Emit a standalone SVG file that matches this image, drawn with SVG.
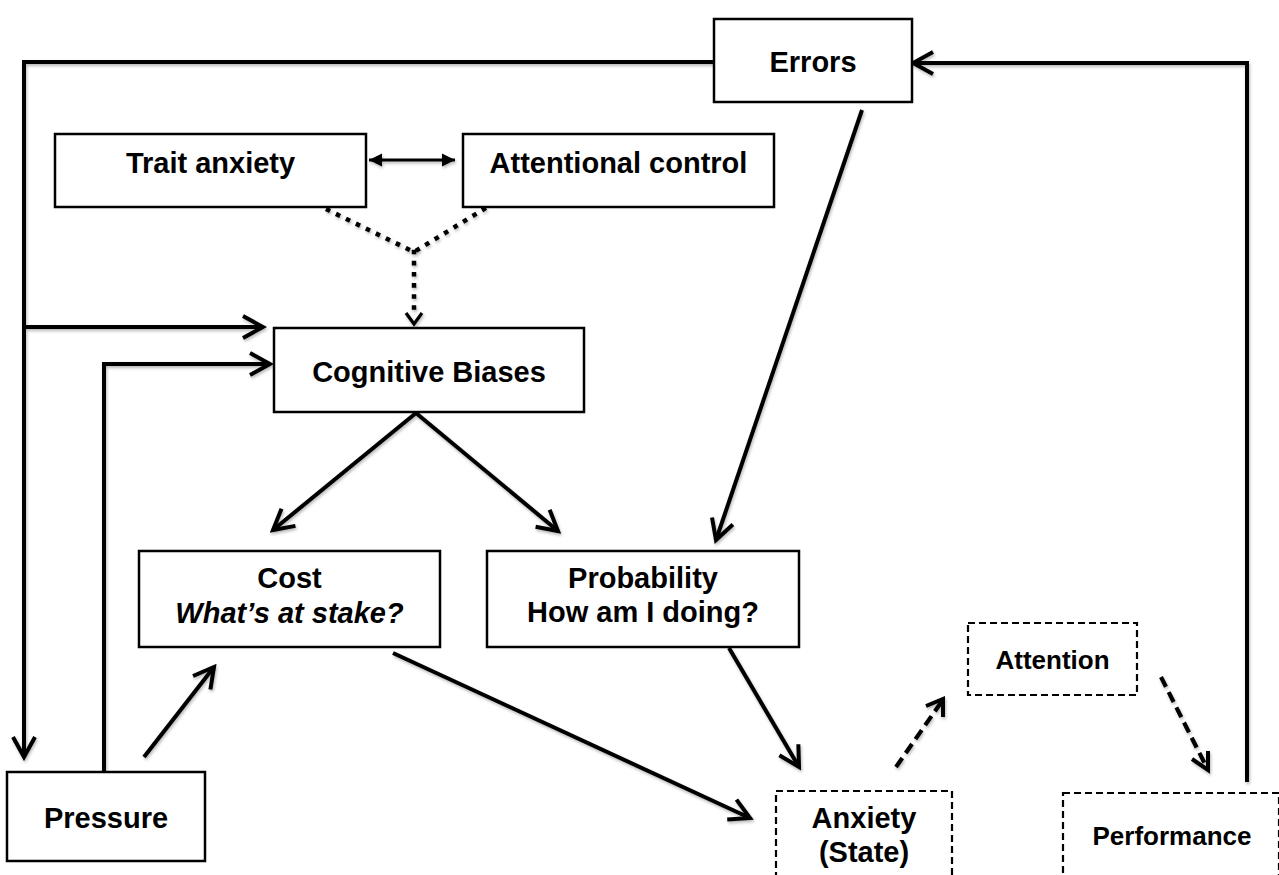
<svg xmlns="http://www.w3.org/2000/svg" width="1279" height="875" viewBox="0 0 1279 875">
  <defs>
    <style>
      .box { fill: #ffffff; stroke: #000000; stroke-width: 2.5; }
      .dbox { fill: #ffffff; stroke: #000000; stroke-width: 2.2; stroke-dasharray: 7 4; }
      .lbl { font-family: "Liberation Sans", Arial, sans-serif; font-weight: bold; fill: #000000; text-anchor: middle; }
      .big { font-size: 29px; }
      .mid { font-size: 26px; }
      .ital { font-style: italic; }
      .wire { fill: none; stroke: #000000; stroke-width: 4; stroke-linejoin: miter; }
      .thin { fill: none; stroke: #000000; stroke-width: 3.2; }
      .dots { fill: none; stroke: #000000; stroke-width: 4.5; stroke-linecap: square; stroke-dasharray: 0.1 11; }
      .dash { fill: none; stroke: #000000; stroke-width: 4.2; stroke-dasharray: 11 6; }
    </style>
    <filter id="soft" x="-10%" y="-10%" width="120%" height="120%">
      <feDropShadow dx="1" dy="2" stdDeviation="1.5" flood-color="#000000" flood-opacity="0.28"/>
    </filter>
    <!-- open chevron head -->
    <marker id="chev" markerUnits="userSpaceOnUse" viewBox="-24 -14 28 28" refX="0" refY="0" markerWidth="28" markerHeight="28" orient="auto">
      <path d="M-20,-11 L0,0 L-20,11" fill="none" stroke="#000000" stroke-width="4" stroke-linejoin="miter"/>
    </marker>
    <!-- solid triangle head -->
    <marker id="tri" markerUnits="userSpaceOnUse" viewBox="-14 -8 16 16" refX="0" refY="0" markerWidth="16" markerHeight="16" orient="auto-start-reverse">
      <path d="M-13,-6.5 L0,0 L-13,6.5 Z" fill="#000000"/>
    </marker>
  </defs>

  <rect width="1279" height="875" fill="#ffffff"/>

  <!-- connectors -->
  <g id="connectors" filter="url(#soft)">
    <!-- feedback from Errors down the left side to Pressure -->
    <path class="wire" d="M714,62 L24,62 L24,757" marker-end="url(#chev)"/>
    <!-- branch into Cognitive Biases -->
    <path class="wire" d="M24,327 L263,327" marker-end="url(#chev)"/>
    <!-- Pressure up into Cognitive Biases -->
    <path class="wire" d="M104,772 L104,364 L270,364" marker-end="url(#chev)"/>
    <!-- Performance back up to Errors -->
    <path class="wire" d="M1247,782 L1247,63 L913,63" marker-end="url(#chev)"/>
    <!-- Trait anxiety <-> Attentional control -->
    <path class="thin" d="M369,160 L455,160" marker-start="url(#tri)" marker-end="url(#tri)"/>
    <!-- dotted moderators -->
    <path class="dots" d="M328,210 L414,252"/>
    <path class="dots" d="M484,209 L414,252"/>
    <path class="dots" d="M414,252 L414,318"/>
    <path d="M406,313 L414,324 L422,313" fill="none" stroke="#000000" stroke-width="3.2"/>
    <!-- Cognitive Biases to appraisals -->
    <path class="wire" d="M416,413 L273,530" marker-end="url(#chev)"/>
    <path class="wire" d="M416,413 L558,531" marker-end="url(#chev)"/>
    <!-- Errors to Probability -->
    <path class="wire" d="M862,110 L716,540" marker-end="url(#chev)"/>
    <!-- Pressure to Cost -->
    <path class="wire" d="M144,757 L214,667" marker-end="url(#chev)"/>
    <!-- appraisals to Anxiety -->
    <path class="wire" d="M393,653 L750,818" marker-end="url(#chev)"/>
    <path class="wire" d="M729,648 L799,767" marker-end="url(#chev)"/>
    <!-- Anxiety to Attention to Performance -->
    <path class="dash" d="M896,767 L942,701"/>
    <path d="M926,706 L943,699 L943,717" fill="none" stroke="#000000" stroke-width="4" stroke-linejoin="miter"/>
    <path class="dash" d="M1161,677 L1206,766"/>
    <path d="M1192,759 L1208,770 L1208,751" fill="none" stroke="#000000" stroke-width="4" stroke-linejoin="miter"/>
  </g>

  <g id="errors">
    <rect class="box" x="714" y="19" width="198" height="83"/>
    <text class="lbl big" x="813" y="72">Errors</text>
  </g>

  <g id="trait-anxiety">
    <rect class="box" x="55" y="134" width="311" height="73"/>
    <text class="lbl big" x="210.5" y="173">Trait anxiety</text>
  </g>

  <g id="attentional-control">
    <rect class="box" x="463" y="134" width="311" height="73"/>
    <text class="lbl big" x="618.5" y="173">Attentional control</text>
  </g>

  <g id="cognitive-biases">
    <rect class="box" x="274" y="328" width="310" height="84"/>
    <text class="lbl big" x="429" y="382">Cognitive Biases</text>
  </g>

  <g id="cost">
    <rect class="box" x="139" y="551" width="301" height="96"/>
    <text class="lbl big" x="289.5" y="588">Cost</text>
    <text class="lbl big ital" x="289.5" y="623">What’s at stake?</text>
  </g>

  <g id="probability">
    <rect class="box" x="487" y="551" width="312" height="96"/>
    <text class="lbl big" x="643" y="588">Probability</text>
    <text class="lbl big" x="643" y="622">How am I doing?</text>
  </g>

  <g id="pressure">
    <rect class="box" x="7" y="772" width="198" height="89"/>
    <text class="lbl big" x="106" y="828">Pressure</text>
  </g>

  <g id="attention">
    <rect class="dbox" x="968" y="623" width="169" height="72"/>
    <text class="lbl mid" x="1052.5" y="669">Attention</text>
  </g>

  <g id="anxiety-state">
    <rect class="dbox" x="776" y="791" width="176" height="110"/>
    <text class="lbl big" x="864" y="828">Anxiety</text>
    <text class="lbl big" x="864" y="862">(State)</text>
  </g>

  <g id="performance">
    <rect class="dbox" x="1063" y="793" width="216" height="110"/>
    <text class="lbl mid" x="1172" y="845">Performance</text>
  </g>
</svg>
